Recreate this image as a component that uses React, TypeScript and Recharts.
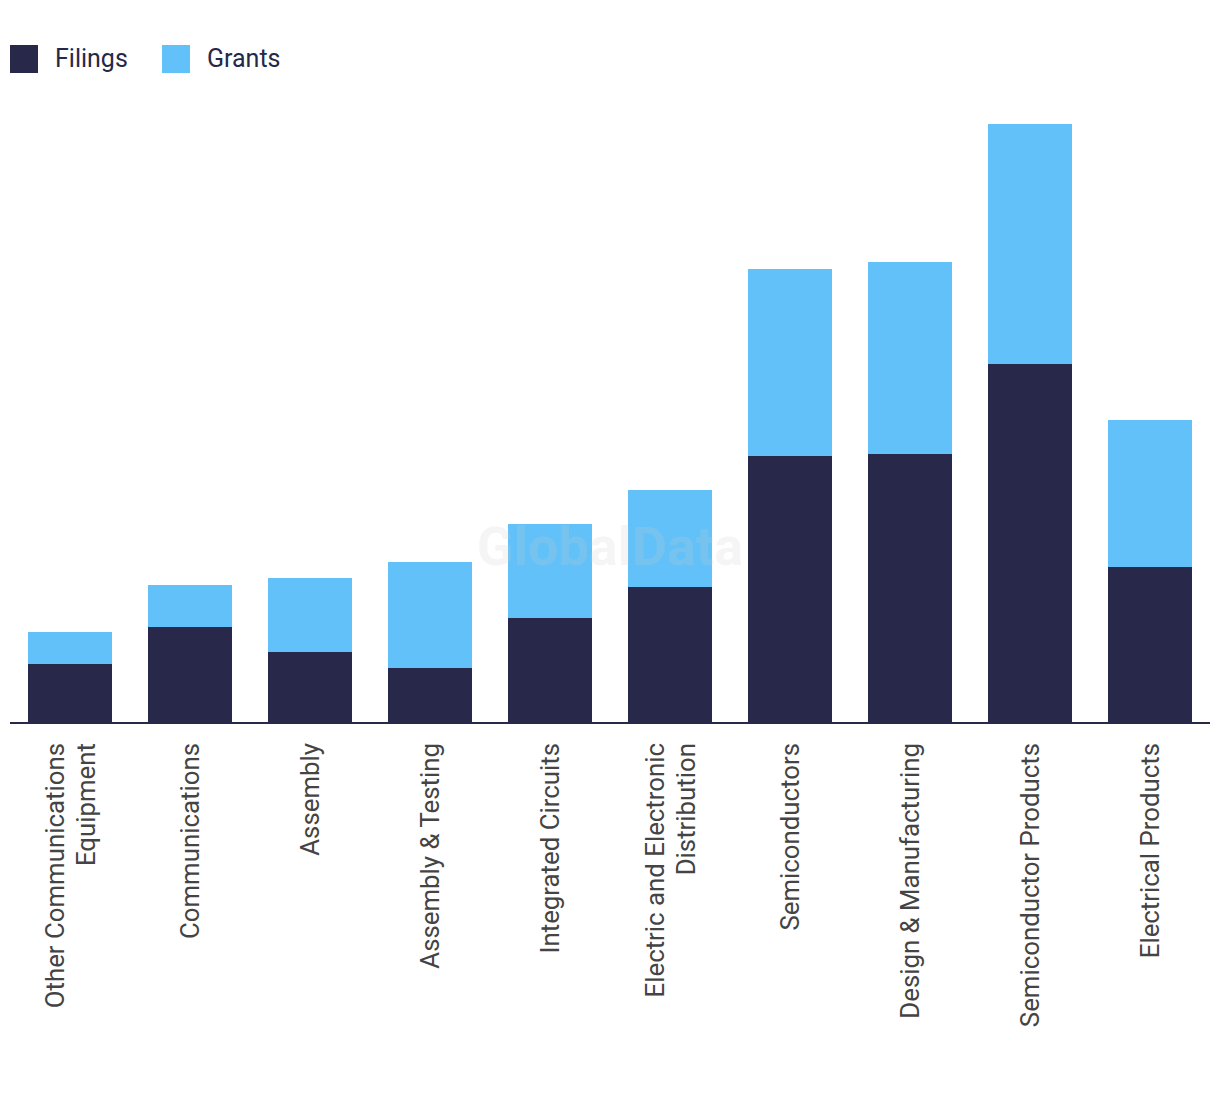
import { Bar, BarChart, XAxis, YAxis } from "recharts";

const categories = [
  "Other Communications Equipment",
  "Communications",
  "Assembly",
  "Assembly & Testing",
  "Integrated Circuits",
  "Electric and Electronic Distribution",
  "Semiconductors",
  "Design & Manufacturing",
  "Semiconductor Products",
  "Electrical Products",
];
const filings = [59, 96, 71, 55, 105, 136, 267, 269, 359, 156];
const grants = [32, 42, 74, 106, 94, 97, 187, 192, 240, 147];

// wrapped label lines for long names
const labelLines: Record<string, string[]> = {
  "Other Communications Equipment": ["Other Communications", "Equipment"],
  "Electric and Electronic Distribution": ["Electric and Electronic", "Distribution"],
};

const NAVY = "#27284a";
const BLUE = "#62c1f8";

const data = categories.map((name, i) => ({ name, filings: filings[i], grants: grants[i] }));

function Tick(props: any) {
  const { x, y, payload } = props;
  const lines = labelLines[payload.value] ?? [payload.value];
  const lh = 31;
  const first = -((lines.length - 1) * lh) / 2 + 9;
  return (
    <g transform={`translate(${x},${y + 12}) rotate(-90)`}>
      <text textAnchor="end" fill="#444" fontSize={25.8} fontFamily="Roboto, sans-serif">
        {lines.map((l, i) => (
          <tspan key={i} x={0} dy={i === 0 ? first : lh}>
            {l}
          </tspan>
        ))}
      </text>
    </g>
  );
}

function LegendBox() {
  const items = [
    { label: "Filings", color: NAVY },
    { label: "Grants", color: BLUE },
  ];
  return (
    <div
      style={{
        position: "absolute",
        left: 10,
        top: 45,
        display: "flex",
        fontFamily: "Roboto, sans-serif",
        fontSize: 25,
        color: "#262849",
        lineHeight: "28px",
      }}
    >
      {items.map((it) => (
        <div key={it.label} style={{ display: "flex", alignItems: "center", width: 152 }}>
          <span style={{ width: 28, height: 28, background: it.color, display: "inline-block", marginRight: 17 }} />
          <span>{it.label}</span>
        </div>
      ))}
    </div>
  );
}

export default function App() {
  return (
    <div style={{ position: "absolute", left: 0, top: 0, width: 1220, height: 1094, background: "#fff" }}>
      <BarChart width={1220} height={1094} data={data} margin={{ top: 123, right: 10, bottom: 0, left: 10 }} barSize={84}>
        <XAxis
          dataKey="name"
          interval={0}
          height={371}
          tickLine={false}
          axisLine={{ stroke: NAVY, strokeWidth: 2 }}
          tick={<Tick />}
        />
        <YAxis hide domain={[0, 600]} />
        <Bar dataKey="filings" stackId="a" fill={NAVY} isAnimationActive={false} />
        <Bar dataKey="grants" stackId="a" fill={BLUE} isAnimationActive={false} />
      </BarChart>
      <LegendBox />
      {/* watermark over the bars */}
      <div
        style={{
          position: "absolute",
          left: 0,
          width: 1220,
          top: 516,
          textAlign: "center",
          fontFamily: "Roboto, sans-serif",
          fontWeight: "bold",
          fontSize: 54,
          lineHeight: "62px",
          color: "rgba(204,204,204,0.2)",
          pointerEvents: "none",
        }}
      >
        GlobalData
      </div>
    </div>
  );
}
